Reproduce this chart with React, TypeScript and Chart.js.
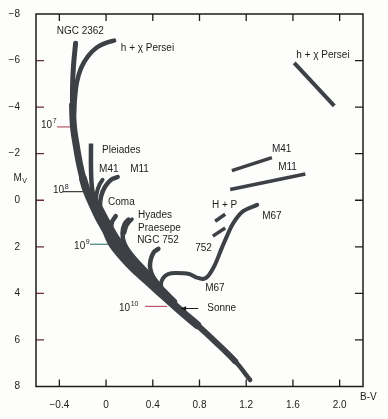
import { useEffect, useRef } from 'react';
import { Chart, registerables } from 'chart.js';
Chart.register(...registerables);

const FONT = "'Liberation Sans', Arial, Helvetica, sans-serif";
const BAND = '#3d4146';
const INK = '#1c1c1c';

// Axis ticks
const bvTicks = [-0.4, 0, 0.4, 0.8, 1.2, 1.6, 2.0];
const mvTicks = [-8, -6, -4, -2, 0, 2, 4, 6, 8];

// Zero-age main sequence band (incl. NGC 2362 upper part)
const zamsBV = [-0.261, -0.279, -0.287, -0.287, -0.279, -0.257, -0.227, -0.197, -0.163, -0.12, -0.06, 0.0, 0.051, 0.137, 0.24, 0.36, 0.463, 0.566, 0.651, 0.78, 0.934, 1.106, 1.234];
const zamsMV = [-6.74, -5.77, -4.92, -4.08, -3.15, -2.4, -1.55, -0.92, -0.37, 0.13, 0.77, 1.31, 1.86, 2.41, 2.96, 3.5, 3.97, 4.43, 4.81, 5.36, 6.07, 6.92, 7.72];
// Merged isochrone envelope on the right side of the band
const envBV = [-0.051, 0.017, 0.086, 0.171, 0.274, 0.386, 0.489, 0.583];
const envMV = [0.34, 0.98, 1.58, 2.16, 2.75, 3.34, 3.88, 4.35];

// Cluster turn-off branches
const hxBV = [0.069, 0.0, -0.077, -0.154, -0.214, -0.249, -0.266, -0.274];
const hxMV = [-6.86, -6.76, -6.57, -6.19, -5.68, -5.09, -4.42, -3.74];
const pleiadesBV = [-0.129, -0.129, -0.12, -0.094, -0.051];
const pleiadesMV = [-2.44, -1.34, -0.5, 0.13, 0.64];
const m41BV = [-0.03, -0.056, -0.077, -0.086, -0.069];
const m41MV = [-0.88, -0.67, -0.37, 0.01, 0.47];
const m11BV = [0.099, 0.043, -0.009, -0.043, -0.051, -0.026, 0.017];
const m11MV = [-1.0, -0.88, -0.58, -0.16, 0.3, 0.81, 1.31];
const hyadesBV = [0.083, 0.051, 0.043, 0.06, 0.103, 0.171, 0.274, 0.377];
const hyadesMV = [0.68, 0.93, 1.31, 1.64, 1.98, 2.37, 2.87, 3.42];
const praesepeBV = [0.193, 0.159, 0.141, 0.154, 0.197, 0.266, 0.369, 0.463];
const praesepeMV = [0.83, 1.02, 1.4, 1.82, 2.2, 2.62, 3.17, 3.67];
const praesepe2BV = [0.223, 0.18, 0.159];
const praesepe2MV = [0.81, 1.07, 1.4];
const ngc752BV = [0.448, 0.407, 0.381, 0.377, 0.403, 0.463, 0.531];
const ngc752MV = [2.09, 2.24, 2.58, 2.91, 3.29, 3.72, 4.14];
const m67BV = [0.531, 0.48, 0.471, 0.489, 0.531, 0.6, 0.711, 0.771, 0.831, 0.874, 0.934, 0.986, 1.037, 1.089, 1.174, 1.294];
const m67MV = [4.35, 3.93, 3.59, 3.34, 3.17, 3.13, 3.17, 3.31, 3.38, 3.25, 2.75, 2.11, 1.52, 0.98, 0.47, 0.2];

// Giant clumps / branches
const hpBV = [0.934, 1.02];
const hpMV = [0.9, 0.6];
const g752BV = [0.914, 1.02];
const g752MV = [1.54, 1.19];
const m41gBV = [1.077, 1.42];
const m41gMV = [-1.27, -1.83];
const m11gBV = [1.063, 1.706];
const m11gMV = [-0.46, -1.13];
const hxgBV = [1.611, 1.954];
const hxgMV = [-5.9, -4.05];

// Text labels (anchor in data coordinates, left aligned)
const labelTexts = ['NGC 2362', 'h + \u03c7 Persei', 'Pleiades', 'M41', 'M11', 'Coma', 'Hyades', 'Praesepe', 'NGC 752', 'Sonne', 'M67', 'M67', '752', 'H + P', 'M41', 'M11', 'h + \u03c7 Persei'];
const labelBV = [-0.423, 0.126, -0.034, -0.06, 0.206, 0.017, 0.274, 0.274, 0.266, 0.866, 0.849, 1.337, 0.763, 0.906, 1.42, 1.474, 1.629];
const labelMV = [-7.24, -6.53, -2.14, -1.34, -1.34, 0.09, 0.64, 1.19, 1.71, 4.64, 3.76, 0.7, 2.05, 0.2, -2.18, -1.43, -6.21];

// Age marks (years: 10^exp)
const ageExp = ['7', '8', '9', '10'];
const ageTextBV = [-0.557, -0.454, -0.274, 0.111];
const ageTextMV = [-3.24, -0.41, 1.97, 4.62];
const ageLineFromBV = [-0.42, -0.369, -0.137, 0.334];
const ageLineToBV = [-0.309, -0.197, 0.017, 0.523];
const ageLineMV = [-3.15, -0.37, 1.89, 4.56];
const ageLineColor = ['#b8566a', '#3a3a3a', '#3f7f78', '#b8566a'];

// Sun arrow
const sunArrowBV = [0.789, 0.634];
const sunArrowMV = 4.65;

const pts = (bv: number[], mv: number[]) => bv.map((x, i) => ({ x, y: mv[i] }));

const fmtBV = (v: number) => (v === 0 ? '0' : (v < 0 ? '\u2212' : '') + Math.abs(v).toFixed(1));
const fmtMV = (v: number) => (v < 0 ? '\u2212' : '') + Math.abs(v);

function line(data: { x: number; y: number }[], width: number, cap: CanvasLineCap = 'butt', extra: any = {}) {
  return {
    data,
    borderColor: BAND,
    backgroundColor: BAND,
    borderWidth: width,
    borderCapStyle: cap,
    borderJoinStyle: 'round',
    pointRadius: 0,
    tension: 0.35,
    fill: false,
    ...extra,
  };
}

const overlay = {
  id: 'overlay',
  beforeDraw(chart: any) {
    const { ctx, width, height } = chart;
    ctx.save();
    ctx.fillStyle = '#fdfdfb';
    ctx.fillRect(0, 0, width, height);
    ctx.restore();
  },
  afterDraw(chart: any) {
    const { ctx, chartArea: a, scales } = chart;
    const xs = scales.x;
    const ys = scales.y;
    ctx.save();
    // ticks
    ctx.lineWidth = 1.3;
    ctx.strokeStyle = INK;
    ctx.beginPath();
    bvTicks.forEach((v) => {
      const px = xs.getPixelForValue(v);
      ctx.moveTo(px, a.bottom);
      ctx.lineTo(px, a.bottom - 7);
      ctx.moveTo(px, a.top);
      ctx.lineTo(px, a.top + 7);
    });
    mvTicks.slice(1, -1).forEach((v) => {
      const py = ys.getPixelForValue(v);
      ctx.moveTo(a.right, py);
      ctx.lineTo(a.right - 8, py);
    });
    ctx.stroke();
    ctx.strokeStyle = '#6a2c3a';
    ctx.beginPath();
    mvTicks.slice(1, -1).forEach((v) => {
      const py = ys.getPixelForValue(v);
      ctx.moveTo(a.left, py);
      ctx.lineTo(a.left + 8, py);
    });
    ctx.stroke();
    // frame
    ctx.strokeStyle = INK;
    ctx.lineWidth = 1.5;
    ctx.strokeRect(a.left, a.top, a.right - a.left, a.bottom - a.top);

    // labels
    ctx.fillStyle = INK;
    ctx.textAlign = 'left';
    ctx.textBaseline = 'middle';
    ctx.font = `10px ${FONT}`;
    labelTexts.forEach((t, i) => {
      ctx.fillText(t, xs.getPixelForValue(labelBV[i]), ys.getPixelForValue(labelMV[i]));
    });

    // age marks
    ageExp.forEach((e, i) => {
      const tx = xs.getPixelForValue(ageTextBV[i]);
      const ty = ys.getPixelForValue(ageTextMV[i]);
      ctx.fillStyle = INK;
      ctx.font = `10px ${FONT}`;
      ctx.fillText('10', tx, ty);
      const w = ctx.measureText('10').width;
      ctx.font = `7px ${FONT}`;
      ctx.fillText(e, tx + w + 0.5, ty - 4);
      ctx.strokeStyle = ageLineColor[i];
      ctx.lineWidth = 1.2;
      ctx.beginPath();
      const ly = ys.getPixelForValue(ageLineMV[i]);
      ctx.moveTo(xs.getPixelForValue(ageLineFromBV[i]), ly);
      ctx.lineTo(xs.getPixelForValue(ageLineToBV[i]), ly);
      ctx.stroke();
    });

    // Sun arrow
    const ay = ys.getPixelForValue(sunArrowMV);
    const ax0 = xs.getPixelForValue(sunArrowBV[0]);
    const ax1 = xs.getPixelForValue(sunArrowBV[1]);
    ctx.strokeStyle = INK;
    ctx.lineWidth = 1;
    ctx.beginPath();
    ctx.moveTo(ax0, ay);
    ctx.lineTo(ax1 + 4, ay);
    ctx.stroke();
    ctx.fillStyle = INK;
    ctx.beginPath();
    ctx.moveTo(ax1, ay);
    ctx.lineTo(ax1 + 6, ay - 2.3);
    ctx.lineTo(ax1 + 6, ay + 2.3);
    ctx.closePath();
    ctx.fill();

    // axis titles
    ctx.fillStyle = INK;
    ctx.font = `10px ${FONT}`;
    ctx.fillText('B-V', a.right - 3, a.bottom + 10.5);
    const my = ys.getPixelForValue(-0.96);
    ctx.fillText('M', a.left - 22.5, my);
    const mw = ctx.measureText('M').width;
    ctx.font = `7px ${FONT}`;
    ctx.fillText('V', a.left - 22.5 + mw + 0.3, my + 3.5);
    ctx.restore();
  },
};

export default function App() {
  const ref = useRef<HTMLCanvasElement>(null);
  useEffect(() => {
    if (!ref.current) return;
    const zamsWidth = (ctx: any) => {
      const y = ctx.p0.parsed.y;
      if (y < -4.5) return 5;
      if (y < -1.2) return 7;
      if (y < 4.9) return 8;
      if (y < 6.2) return 6;
      return 4.5;
    };
    const chart = new Chart(ref.current, {
      type: 'line',
      data: {
        datasets: [
          line(pts(zamsBV, zamsMV), 7, 'round', { segment: { borderWidth: zamsWidth } }),
          line(pts(envBV, envMV), 6, 'round'),
          line(pts(hxBV, hxMV), 4.5, 'round'),
          line(pts(pleiadesBV, pleiadesMV), 4.5),
          line(pts(m41BV, m41MV), 4, 'round'),
          line(pts(m11BV, m11MV), 4.5, 'round'),
          line(pts(hyadesBV, hyadesMV), 4.5, 'round'),
          line(pts(praesepeBV, praesepeMV), 4.5, 'round'),
          line(pts(praesepe2BV, praesepe2MV), 3.5, 'round'),
          line(pts(ngc752BV, ngc752MV), 4.5, 'round'),
          line(pts(m67BV, m67MV), 4, 'round'),
          line(pts(hpBV, hpMV), 3.5, 'butt', { tension: 0 }),
          line(pts(g752BV, g752MV), 3.5, 'butt', { tension: 0 }),
          line(pts(m41gBV, m41gMV), 3.5, 'butt', { tension: 0 }),
          line(pts(m11gBV, m11gMV), 3.5, 'butt', { tension: 0 }),
          line(pts(hxgBV, hxgMV), 4, 'butt', { tension: 0 }),
        ] as any,
      },
      options: {
        animation: false,
        responsive: false,
        devicePixelRatio: 1,
        layout: { padding: { top: 7, right: 25, left: 0, bottom: 0 } },
        plugins: { legend: { display: false }, tooltip: { enabled: false } },
        scales: {
          x: {
            type: 'linear',
            min: -0.6,
            max: 2.2,
            grid: { display: false },
            border: { display: false },
            afterBuildTicks: (s: any) => {
              s.ticks = bvTicks.map((v) => ({ value: v }));
            },
            afterFit: (s: any) => {
              s.height = 32.5;
            },
            ticks: {
              color: INK,
              padding: 5,
              maxRotation: 0,
              autoSkip: false,
              font: { family: FONT, size: 10 },
              callback: (v: any) => fmtBV(Number(v)),
            },
          },
          y: {
            type: 'linear',
            min: -8,
            max: 8,
            reverse: true,
            grid: { display: false },
            border: { display: false },
            afterBuildTicks: (s: any) => {
              s.ticks = mvTicks.map((v) => ({ value: v }));
            },
            afterFit: (s: any) => {
              s.width = 36;
            },
            ticks: {
              color: INK,
              padding: 8,
              autoSkip: false,
              font: { family: FONT, size: 10 },
              callback: (v: any) => fmtMV(Number(v)),
            },
          },
        },
      } as any,
      plugins: [overlay as any],
    });
    return () => chart.destroy();
  }, []);
  return (
    <div style={{ position: 'absolute', left: 0, top: 0, width: 388, height: 419 }}>
      <canvas ref={ref} width={388} height={419} style={{ display: 'block' }} />
    </div>
  );
}
